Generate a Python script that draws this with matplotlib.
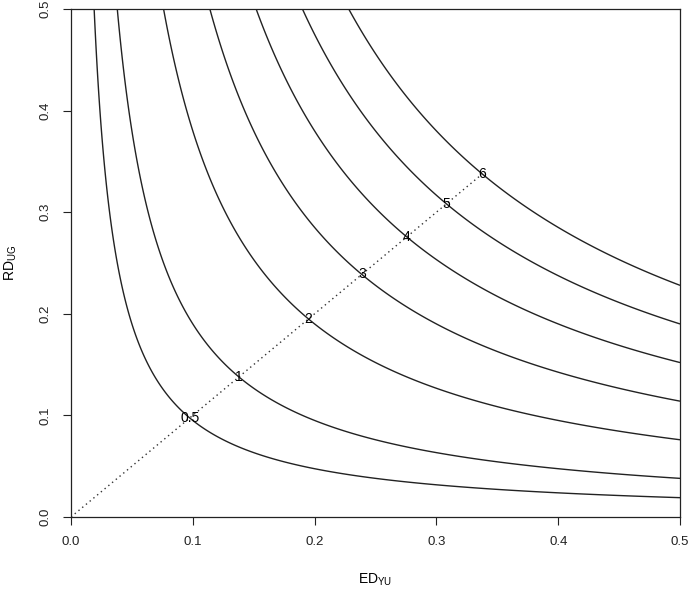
import numpy as np
import matplotlib
matplotlib.use("Agg")
import matplotlib.pyplot as plt

plt.rcParams['font.family'] = ['Liberation Sans', 'DejaVu Sans']
plt.rcParams['mathtext.fontset'] = 'custom'
plt.rcParams['mathtext.rm'] = 'Liberation Sans'

# contour levels and the scale (level = ED * RD / scale)
levels = [0.5, 1, 2, 3, 4, 5, 6]
level_labels = ['0.5', '1', '2', '3', '4', '5', '6']
scale = 0.019
ticks = [0.0, 0.1, 0.2, 0.3, 0.4, 0.5]
tick_labels = ['0.0', '0.1', '0.2', '0.3', '0.4', '0.5']

ed = np.linspace(0.0005, 0.5, 600)
rd = np.linspace(0.0005, 0.5, 600)
ED, RD = np.meshgrid(ed, rd)
Z = ED * RD / scale

fig = plt.figure(figsize=(6.92, 5.96), dpi=100)
ax = fig.add_axes([0.1026, 0.1326, 0.8801, 0.8523])

ax.contour(ED, RD, Z, levels=levels, colors='#222222', linewidths=1.0)

# diagonal with labels where each contour crosses it
pos = np.sqrt(np.array(levels) * scale)
ax.plot([0, pos[-1]], [0, pos[-1]], color='#333333', linestyle=(0, (1, 2.5)), linewidth=1.0)
for p, lab in zip(pos, level_labels):
    ax.text(p, p, lab, ha='center', va='center', fontsize=10, color='black')

ax.set_xlim(0, 0.5)
ax.set_ylim(0, 0.5)
ax.set_xticks(ticks)
ax.set_xticklabels(tick_labels)
ax.set_yticks(ticks)
ax.set_yticklabels(tick_labels, rotation=90, va='center')
ax.tick_params(direction='out', length=6, width=0.8, labelsize=9.5, pad=8, colors='#222222')
for s in ax.spines.values():
    s.set_linewidth(0.9)
    s.set_color('#222222')

ax.set_xlabel(r'ED$_{\mathrm{YU}}$', fontsize=10, labelpad=17)
ax.set_ylabel(r'RD$_{\mathrm{UG}}$', fontsize=10, labelpad=15)

fig.savefig('out.png', dpi=100)
